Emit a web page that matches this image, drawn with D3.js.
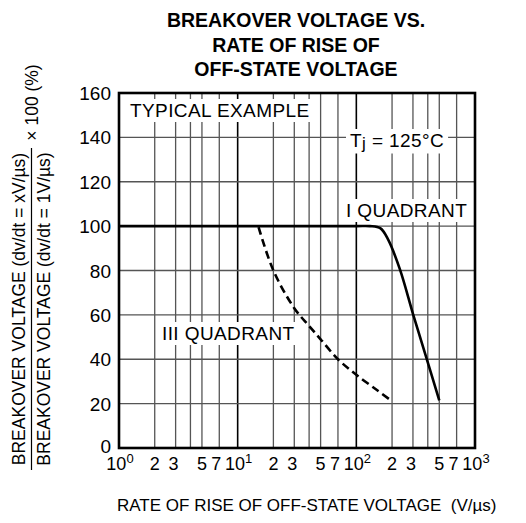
<!DOCTYPE html>
<html>
<head>
<meta charset="utf-8">
<script src="https://cdn.jsdelivr.net/npm/d3@7"></script>
<style>
  body { margin: 0; background: #fff; }
  svg { display: block; }
  text { font-family: "Liberation Sans", Arial, sans-serif; fill: #000; }
</style>
</head>
<body>
<div id="chart"></div>
<script>
// values
var titleLines = ["BREAKOVER VOLTAGE VS.", "RATE OF RISE OF", "OFF-STATE VOLTAGE"];
var xTicks = [1, 2, 3, 5, 7, 10, 20, 30, 50, 70, 100, 200, 300, 500, 700, 1000];
var xGrid = [2, 3, 4, 5, 7, 10, 20, 30, 40, 50, 70, 100, 200, 300, 400, 500, 700];
var yTicks = [0, 20, 40, 60, 80, 100, 120, 140, 160];
// I quadrant (solid)
var quadrantI = [
    [1, 100], [10, 100], [100, 100], [130, 100], [160, 99], [185, 94],
    [233, 80.5], [300, 60.5], [390, 40.5], [500, 21.5]
];
// III quadrant (dashed)
var quadrantIII = [
    [15, 99.5], [20, 80], [30, 63], [40, 55], [50, 49], [70, 40],
    [100, 33], [150, 26], [195, 21.5]
];

(function () {
    "use strict";
    var width = 526;
    var height = 523;
    var plot = {left: 119, right: 475, top: 93, bottom: 448};

    var svg = d3.select("#chart").append("svg")
        .attr("width", width)
        .attr("height", height);

    var x = d3.scaleLog().domain([1, 1000]).range([plot.left, plot.right]);
    var y = d3.scaleLinear().domain([0, 160]).range([plot.bottom, plot.top]);

    // title
    svg.append("g").selectAll("text")
        .data(titleLines)
        .enter().append("text")
        .attr("x", 296)
        .attr("y", function (d, i) { return 27 + i * 24.5; })
        .attr("text-anchor", "middle")
        .style("font-size", "19.5px")
        .style("font-weight", "bold")
        .text(function (d) { return d; });

    // grid
    var grid = svg.append("g");
    grid.selectAll(".vgrid")
        .data(xGrid)
        .enter().append("line")
        .attr("x1", function (d) { return x(d); })
        .attr("x2", function (d) { return x(d); })
        .attr("y1", plot.top)
        .attr("y2", plot.bottom)
        .attr("stroke", function (d) { return (d === 10 || d === 100) ? "#000" : "#555"; })
        .attr("stroke-width", function (d) { return (d === 10 || d === 100) ? 1.6 : 1.3; });
    grid.selectAll(".hgrid")
        .data(yTicks.slice(1, -1))
        .enter().append("line")
        .attr("x1", plot.left)
        .attr("x2", plot.right)
        .attr("y1", function (d) { return y(d); })
        .attr("y2", function (d) { return y(d); })
        .attr("stroke", "#555")
        .attr("stroke-width", 1.3);

    // y tick labels
    svg.append("g").selectAll("text")
        .data(yTicks)
        .enter().append("text")
        .attr("x", 111)
        .attr("y", function (d) { return y(d) + (d === 0 ? 5 : 7); })
        .attr("text-anchor", "end")
        .style("font-size", "19px")
        .text(function (d) { return d; });

    // x tick labels
    var xl = svg.append("g").selectAll("text")
        .data(xTicks)
        .enter().append("text")
        .attr("x", function (d) {
            var m = d / Math.pow(10, Math.floor(Math.log10(d) + 1e-9));
            var shift = m === 7 ? -3 : (m === 3 ? -2 : (m === 1 ? 1 : 0));
            return x(d) + shift;
        })
        .attr("y", 470)
        .attr("text-anchor", "middle")
        .style("font-size", "18px");
    xl.each(function (d) {
        var t = d3.select(this);
        var p = Math.log10(d);
        if (Math.abs(p - Math.round(p)) < 1e-9) {
            t.append("tspan").text("10");
            t.append("tspan").attr("dy", -7).style("font-size", "13px").text(Math.round(p));
        } else {
            t.text(d / Math.pow(10, Math.floor(p)));
        }
    });

    // in-plot labels with white boxes
    function boxedLabel(px, py, build) {
        var g = svg.append("g");
        var bg = g.append("rect").attr("fill", "#fff");
        var t = g.append("text")
            .attr("x", px)
            .attr("y", py)
            .style("font-size", "19px")
            .style("letter-spacing", "0.4px");
        build(t);
        var b = t.node().getBBox();
        bg.attr("x", b.x - 4).attr("y", b.y - 1)
            .attr("width", b.width + 8).attr("height", b.height + 2);
    }
    boxedLabel(130, 117, function (t) { t.text("TYPICAL EXAMPLE"); });
    boxedLabel(350, 147, function (t) {
        t.append("tspan").text("T");
        t.append("tspan").attr("dy", 1.5).style("font-size", "17px").text("j");
        t.append("tspan").attr("dy", -1.5).text(" = 125°C");
    });
    boxedLabel(346, 217, function (t) { t.text("I QUADRANT"); });
    boxedLabel(162, 340, function (t) { t.text("III QUADRANT"); });

    // curves
    var line = d3.line()
        .x(function (d) { return x(d[0]); })
        .y(function (d) { return y(d[1]); })
        .curve(d3.curveCatmullRom.alpha(0.5));
    svg.append("path")
        .datum(quadrantI)
        .attr("d", line)
        .attr("fill", "none")
        .attr("stroke", "#000")
        .attr("stroke-width", 2.6);
    svg.append("path")
        .datum(quadrantIII)
        .attr("d", line)
        .attr("fill", "none")
        .attr("stroke", "#000")
        .attr("stroke-width", 2.6)
        .attr("stroke-dasharray", "8,4.5");

    // frame
    svg.append("rect")
        .attr("x", plot.left)
        .attr("y", plot.top)
        .attr("width", plot.right - plot.left)
        .attr("height", plot.bottom - plot.top)
        .attr("fill", "none")
        .attr("stroke", "#000")
        .attr("stroke-width", 2.6);

    // x axis title
    svg.append("text")
        .attr("x", 117)
        .attr("y", 511)
        .attr("xml:space", "preserve")
        .style("font-size", "17px")
        .text("RATE OF RISE OF OFF-STATE VOLTAGE  (V/µs)");

    // y axis title as a fraction
    var yt = svg.append("g");
    var midY = 309;
    yt.append("text")
        .attr("transform", "translate(25," + midY + ") rotate(-90)")
        .attr("text-anchor", "middle")
        .style("font-size", "17.5px")
        .text("BREAKOVER VOLTAGE (dv/dt = xV/µs)");
    yt.append("line")
        .attr("x1", 31.5).attr("x2", 31.5)
        .attr("y1", 148).attr("y2", 470)
        .attr("stroke", "#000")
        .attr("stroke-width", 1.2);
    yt.append("text")
        .attr("transform", "translate(50," + midY + ") rotate(-90)")
        .attr("text-anchor", "middle")
        .style("font-size", "17.5px")
        .text("BREAKOVER VOLTAGE (dv/dt = 1V/µs)");
    yt.append("text")
        .attr("transform", "translate(37.5,102.5) rotate(-90)")
        .attr("text-anchor", "middle")
        .style("font-size", "17.5px")
        .text("× 100 (%)");
}());
</script>
</body>
</html>
